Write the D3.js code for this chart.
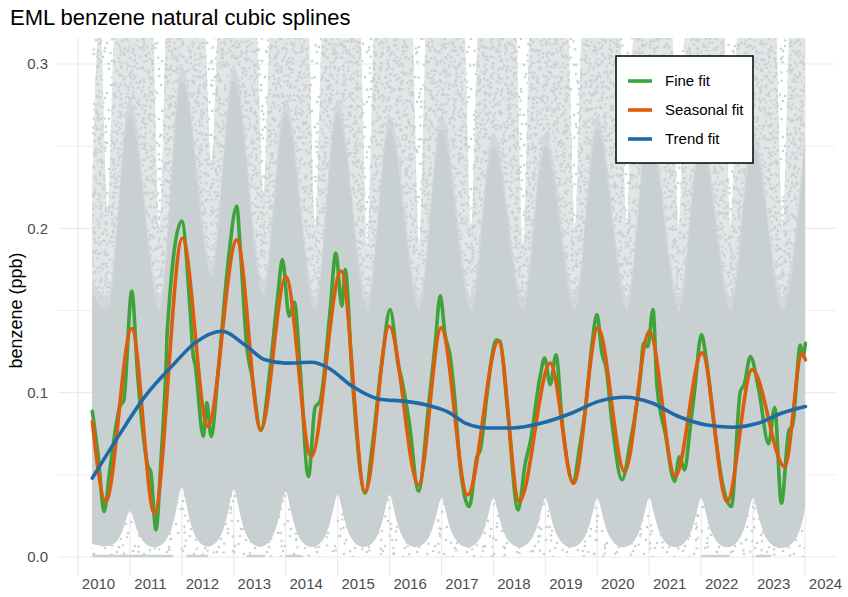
<!DOCTYPE html>
<html><head><meta charset="utf-8">
<script src="https://cdn.jsdelivr.net/npm/d3@7"></script>
<style>
body{margin:0;background:#fff}
svg{display:block}
text{font-family:"Liberation Sans",Arial,Helvetica,sans-serif}
</style>
</head><body>
<svg id="chart" width="848" height="597"></svg>
<script>
// ---------------- data ----------------
const chartTitle = "EML benzene natural cubic splines";
const yAxisTitle = "benzene (ppb)";
const xTickYears = [2010,2011,2012,2013,2014,2015,2016,2017,2018,2019,2020,2021,2022,2023,2024];
const yTickValues = [0, 0.1, 0.2, 0.3];
const yMinorValues = [0.05, 0.15, 0.25];
const seriesNames = ["Fine fit", "Seasonal fit", "Trend fit"];

// Fine fit (decimal year, ppb)
const fineTime = [2010.276,2010.391,2010.501,2010.62,2010.81,2010.88,2011.035,2011.15,2011.35,2011.40,2011.50,2011.60,2011.70,2011.72,2011.998,2012.16,2012.22,2012.25,2012.414,2012.48,2012.563,2012.703,2012.896,2013.058,2013.12,2013.25,2013.35,2013.52,2013.70,2013.85,2013.936,2014.066,2014.168,2014.277,2014.437,2014.566,2014.663,2014.855,2014.965,2015.081,2015.145,2015.279,2015.530,2015.665,2015.857,2016.01,2016.171,2016.22,2016.378,2016.557,2016.744,2016.88,2016.975,2017.07,2017.168,2017.245,2017.36,2017.534,2017.682,2017.746,2017.88,2017.97,2018.054,2018.13,2018.27,2018.475,2018.613,2018.71,2018.9,2018.985,2019.094,2019.204,2019.33,2019.543,2019.64,2019.77,2019.90,2019.994,2020.09,2020.17,2020.29,2020.476,2020.636,2020.83,2020.89,2020.97,2021.073,2021.15,2021.31,2021.489,2021.58,2021.68,2021.79,2021.87,2022.005,2022.10,2022.25,2022.41,2022.582,2022.755,2022.83,2022.948,2023.108,2023.30,2023.416,2023.545,2023.69,2023.76,2023.911,2023.96,2024.008];
const fineValue = [0.0886,0.061,0.0276,0.055,0.092,0.095,0.1618,0.11,0.055,0.052,0.0165,0.06,0.12,0.138,0.2045,0.15,0.122,0.118,0.0734,0.094,0.0734,0.114,0.181,0.2136,0.19,0.128,0.11,0.077,0.115,0.16,0.181,0.1465,0.155,0.115,0.049,0.091,0.095,0.15,0.185,0.1526,0.175,0.11,0.0388,0.067,0.12,0.1506,0.116,0.11,0.082,0.040,0.09,0.13,0.159,0.135,0.122,0.1,0.055,0.0307,0.061,0.065,0.1,0.122,0.132,0.131,0.09,0.0287,0.057,0.07,0.11,0.121,0.105,0.123,0.08,0.045,0.063,0.09,0.13,0.1475,0.124,0.115,0.08,0.047,0.07,0.11,0.13,0.128,0.1506,0.104,0.075,0.046,0.061,0.053,0.079,0.1,0.1354,0.12,0.08,0.045,0.0307,0.1008,0.105,0.122,0.102,0.069,0.091,0.0327,0.077,0.08,0.129,0.122,0.130];

// Seasonal fit
const seasonalTime = [2010.276,2010.534,2011.035,2011.470,2012.010,2012.499,2013.058,2013.520,2014.002,2014.489,2015.067,2015.530,2015.992,2016.557,2016.994,2017.501,2018.098,2018.497,2019.094,2019.543,2020.013,2020.526,2021.002,2021.503,2022.017,2022.499,2022.981,2023.609,2023.944,2024.008];
const seasonalValue = [0.0825,0.0337,0.139,0.0266,0.194,0.0795,0.193,0.0774,0.1705,0.0612,0.174,0.0398,0.1404,0.0439,0.1394,0.0378,0.1313,0.0337,0.118,0.0449,0.1394,0.052,0.1374,0.049,0.1242,0.0337,0.114,0.055,0.124,0.120];

// Trend fit
const trendTime = [2010.276,2010.777,2011.291,2011.805,2012.254,2012.769,2013.218,2013.603,2013.988,2014.503,2014.823,2015.274,2015.786,2016.301,2016.686,2017.168,2017.457,2017.906,2018.356,2018.934,2019.512,2020.025,2020.540,2021.054,2021.566,2022.081,2022.595,2023.108,2023.559,2024.008];
const trendValue = [0.048,0.0734,0.0977,0.116,0.1303,0.1374,0.129,0.120,0.118,0.1185,0.115,0.104,0.0962,0.0947,0.0927,0.0876,0.0815,0.0785,0.0785,0.0815,0.0876,0.0947,0.0972,0.0937,0.0855,0.0805,0.079,0.0815,0.0876,0.0916];

// Observation cloud envelopes (read from the scatter of hourly points)
// dense core upper edge
const coreTime = [2010.27,2010.57,2011.0,2011.57,2012.0,2012.57,2013.0,2013.57,2014.0,2014.57,2015.0,2015.57,2016.0,2016.57,2017.0,2017.57,2018.0,2018.57,2019.0,2019.57,2020.0,2020.57,2021.0,2021.57,2022.0,2022.57,2023.0,2023.57,2024.0];
const coreTop = [0.16,0.15,0.27,0.15,0.29,0.17,0.29,0.16,0.27,0.15,0.27,0.15,0.26,0.15,0.26,0.15,0.25,0.15,0.25,0.15,0.26,0.15,0.26,0.15,0.25,0.15,0.25,0.15,0.25];
// speckled band upper edge (summer gaps)
const haloTime = [2010.27,2010.42,2010.57,2010.72,2011.42,2011.57,2011.72,2012.42,2012.57,2012.72,2013.42,2013.57,2013.72,2014.42,2014.57,2014.72,2015.42,2015.57,2015.72,2016.42,2016.57,2016.72,2017.42,2017.57,2017.72,2018.42,2018.57,2018.72,2019.42,2019.57,2019.72,2020.42,2020.57,2020.72,2021.42,2021.57,2021.72,2022.42,2022.57,2022.72,2023.42,2023.57,2023.72,2024.0];
const haloTop = [0.22,0.33,0.21,0.33,0.33,0.2,0.33,0.33,0.24,0.33,0.33,0.22,0.33,0.33,0.2,0.33,0.33,0.19,0.33,0.33,0.19,0.33,0.33,0.2,0.33,0.33,0.19,0.33,0.33,0.2,0.33,0.33,0.2,0.33,0.33,0.2,0.33,0.33,0.2,0.33,0.33,0.2,0.33,0.33];
// lower edge (winter minima stay above zero)
const floorTime = [2010.27,2010.84,2011.0,2011.16,2011.84,2012.0,2012.16,2012.84,2013.0,2013.16,2013.84,2014.0,2014.16,2014.84,2015.0,2015.16,2015.84,2016.0,2016.16,2016.84,2017.0,2017.16,2017.84,2018.0,2018.16,2018.84,2019.0,2019.16,2019.84,2020.0,2020.16,2020.84,2021.0,2021.16,2021.84,2022.0,2022.16,2022.84,2023.0,2023.16,2023.84,2024.0];
const floorValue = [0.008,0.004,0.04,0.004,0.004,0.062,0.004,0.004,0.06,0.004,0.004,0.058,0.004,0.004,0.055,0.004,0.004,0.055,0.004,0.004,0.052,0.004,0.004,0.052,0.004,0.004,0.052,0.004,0.004,0.052,0.004,0.004,0.052,0.004,0.004,0.052,0.004,0.004,0.052,0.004,0.004,0.03];
// runs of exact-zero readings
const zeroRuns = [[2010.28,2011.83],[2012.1,2012.5],[2013.25,2013.6],[2014.0,2014.3],[2022.0,2022.55],[2023.05,2023.35]];

// ---------------- layout ----------------
const svg = d3.select("#chart");
const panel = {left: 58, right: 836, top: 38, bottom: 576};
const x = d3.scaleLinear().domain([2010, 2024]).range([78, 805]);
const y = d3.scaleLinear().domain([0, 0.3]).range([557, 64]);

const cloudColor = "#c9d0d1";
const colors = {"Fine fit": "#3fa33b", "Seasonal fit": "#dc5e0d", "Trend fit": "#1f6aa6"};

const defs = svg.append("defs");
defs.append("clipPath").attr("id", "panelClip").append("rect")
  .attr("x", panel.left).attr("y", panel.top)
  .attr("width", panel.right - panel.left).attr("height", panel.bottom - panel.top);

// speckle texture for the scatter
const speck = [[3,7],[17,2],[31,9],[44,4],[9,19],[24,15],[38,21],[48,16],[2,31],[15,27],[28,33],[41,29],[7,43],[21,39],[35,46],[46,40],[12,11],[26,24],[40,36],[5,48],[33,1],[19,47],[47,27],[11,35]];
const texTransforms = ["", "rotate(37) translate(7,3)", "rotate(71) translate(13,21)", "rotate(-23) translate(29,11)", "rotate(113) translate(5,37)", "rotate(-61) translate(19,29)", "rotate(151) translate(23,7)", "rotate(-97) translate(3,17)"];
texTransforms.forEach((tr, i) => {
  const p = defs.append("pattern").attr("id", "tex" + i)
    .attr("patternUnits", "userSpaceOnUse").attr("width", 50).attr("height", 50);
  if (tr) p.attr("patternTransform", tr);
  p.selectAll("circle").data(speck).join("circle")
    .attr("cx", d => d[0]).attr("cy", d => d[1]).attr("r", 1.3).attr("fill", cloudColor);
});

// grid
const grid = svg.append("g");
yTickValues.concat(yMinorValues).forEach(v => {
  grid.append("line").attr("x1", panel.left).attr("x2", panel.right)
    .attr("y1", y(v)).attr("y2", y(v))
    .attr("stroke", "#ebebeb").attr("stroke-width", yMinorValues.includes(v) ? 0.8 : 1.2);
});
xTickYears.forEach(t => {
  grid.append("line").attr("x1", x(t)).attr("x2", x(t))
    .attr("y1", panel.top).attr("y2", panel.bottom)
    .attr("stroke", "#ebebeb").attr("stroke-width", 1.2);
});

// cloud
const plot = svg.append("g").attr("clip-path", "url(#panelClip)");
const pts = (ts, vs) => ts.map((t, i) => [t, vs[i]]);
const lineSmooth = d3.line().x(d => x(d[0])).y(d => y(d[1])).curve(d3.curveMonotoneX);
const lineBasis = d3.line().x(d => x(d[0])).y(d => y(d[1])).curve(d3.curveBasis);
const floorPts = pts(floorTime, floorValue);
const band = (upper) => lineSmooth(upper) + lineBasis(floorPts.slice().reverse()).replace(/^M/, "L") + "Z";
const tStart = coreTime[0], tEnd = coreTime[coreTime.length - 1];
const fullArea = d3.area().x(d => x(d)).y0(y(0)).y1(y(0.33));

// sparse points everywhere in the record
[0, 3].forEach(i => plot.append("path").attr("d", fullArea([tStart, tEnd])).attr("fill", `url(#tex${i})`));
// speckled band
const haloPath = band(pts(haloTime, haloTop));
plot.append("path").attr("d", haloPath).attr("fill", "#e1e6e7");
[1, 2, 4, 5, 6, 7].forEach(i => plot.append("path").attr("d", haloPath).attr("fill", `url(#tex${i})`));
// dense core with a soft, speckled upper fringe
const corePath = band(pts(coreTime, coreTop));
plot.append("path").attr("d", corePath).attr("transform", "translate(0,-14)").attr("fill", "#d3d9da");
[1, 4].forEach(i => plot.append("path").attr("d", corePath).attr("transform", "translate(0,-14)").attr("fill", `url(#tex${i})`));
plot.append("path").attr("d", corePath).attr("fill", cloudColor);
// exact zeros
plot.selectAll("line.zero").data(zeroRuns).join("line").attr("class", "zero")
  .attr("x1", d => x(d[0])).attr("x2", d => x(d[1]))
  .attr("y1", y(0) - 1).attr("y2", y(0) - 1)
  .attr("stroke", cloudColor).attr("stroke-width", 2.4);

// fits
const fits = [
  {name: "Fine fit", t: fineTime, v: fineValue},
  {name: "Seasonal fit", t: seasonalTime, v: seasonalValue},
  {name: "Trend fit", t: trendTime, v: trendValue}
];
fits.forEach(f => {
  plot.append("path").datum(pts(f.t, f.v))
    .attr("d", lineSmooth).attr("fill", "none")
    .attr("stroke", colors[f.name]).attr("stroke-width", 3.6)
    .attr("stroke-linejoin", "round").attr("stroke-linecap", "round");
});

// axes (labels only, minimal theme)
const yAxis = svg.append("g").attr("transform", `translate(${panel.left - 10},0)`)
  .call(d3.axisLeft(y).tickValues(yTickValues).tickFormat(d3.format(".1f")).tickSize(0));
yAxis.select(".domain").remove();
yAxis.selectAll("text").attr("font-size", 15).attr("fill", "#4d4d4d")
  .attr("font-family", "Liberation Sans, Arial, sans-serif").attr("x", 0);

const xAxis = svg.append("g").attr("transform", `translate(0,${panel.bottom})`)
  .call(d3.axisBottom(x).tickValues(xTickYears).tickFormat(d3.format("d")).tickSize(0));
xAxis.select(".domain").remove();
xAxis.selectAll("text").attr("font-size", 15).attr("fill", "#4d4d4d")
  .attr("font-family", "Liberation Sans, Arial, sans-serif")
  .attr("dx", 20).attr("dy", 0).attr("y", 12.5);

// titles
svg.append("text").attr("x", 10).attr("y", 25).attr("font-size", 22).attr("fill", "#000")
  .text(chartTitle);
svg.append("text").attr("transform", `translate(22,${(y(0) + y(0.3)) / 2}) rotate(-90)`)
  .attr("text-anchor", "middle").attr("font-size", 18).attr("fill", "#000").text(yAxisTitle);

// legend
const lg = svg.append("g");
lg.append("rect").attr("x", 616).attr("y", 56).attr("width", 137).attr("height", 107)
  .attr("fill", "#fff").attr("stroke", "#000").attr("stroke-width", 1.5);
seriesNames.forEach((n, i) => {
  const cy = 81 + i * 29;
  lg.append("line").attr("x1", 628).attr("x2", 652).attr("y1", cy).attr("y2", cy)
    .attr("stroke", colors[n]).attr("stroke-width", 3.6);
  lg.append("text").attr("x", 665).attr("y", cy).attr("dy", "0.35em")
    .attr("font-size", 15).attr("fill", "#000").text(n);
});
</script>
</body></html>
